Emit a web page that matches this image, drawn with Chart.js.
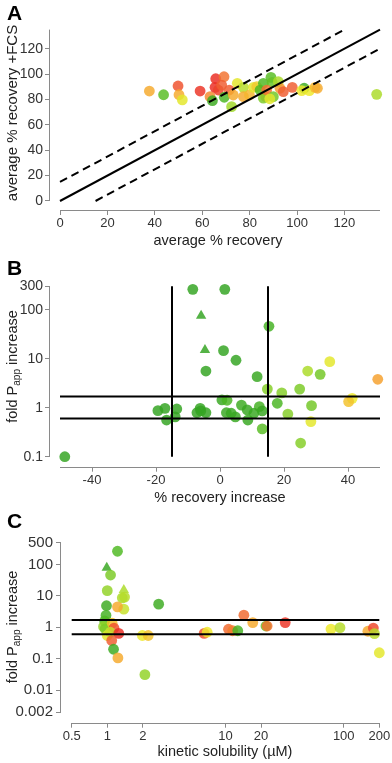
<!DOCTYPE html>
<html><head><meta charset="utf-8">
<script src="https://cdn.jsdelivr.net/npm/chart.js@4"></script>
<style>
html,body{margin:0;padding:0;background:#fff;}
#wrap{position:relative;width:392px;height:763px;overflow:hidden;}
canvas{position:absolute;left:0;}
</style></head><body>
<div id="wrap">
<canvas id="cA" width="392" height="252" style="top:0;width:392px;height:252px"></canvas>
<canvas id="cB" width="392" height="253" style="top:252px;width:392px;height:253px"></canvas>
<canvas id="cC" width="392" height="258" style="top:505px;width:392px;height:258px"></canvas>
</div>
<script>
const FONT = '"Liberation Sans", Arial, Helvetica, sans-serif';
const AXIS = '#8a8a8a';
const TICKCOL = '#333';
const TITLECOL = '#222';

// ---------- Panel A ----------
const aRecovery    = [37.7,43.7,49.8,50.2,51.6,59.1,63.3,64.3,65.7,69.2,65.4,66.8,68.2,71.4,69.3,72.4,73.1,74.8,77.4,77.4,79.9,81.6,83.0,84.4,85.8,89.0,89.5,86.8,85.8,87.2,92.1,92.8,94.2,90.0,88.5,98.0,103.0,102.0,105.2,107.6,108.6,133.6];
const aRecoveryFCS = [86.6,83.7,90.6,83.7,79.6,86.6,82.2,79.0,96.3,97.9,89.5,87.4,91.3,87.4,81.7,74.3,83.5,92.7,89.5,82.2,83.5,89.5,90.0,87.4,92.7,97.4,93.5,82.2,81.0,87.4,94.0,88.8,86.1,82.2,80.5,89.5,88.8,86.9,86.9,89.5,88.8,84.0];
const aScore       = [0.68,0.22,0.88,0.68,0.5,0.95,0.75,0.12,0.97,0.8,0.97,0.92,0.85,0.85,0.18,0.38,0.68,0.5,0.42,0.68,0.65,0.5,0.6,0.2,0.2,0.22,0.25,0.68,0.3,0.8,0.4,0.72,0.85,0.28,0.5,0.85,0.12,0.52,0.52,0.65,0.68,0.4];
const aTicks = [0,20,40,60,80,100,120];
const aRange = [0,135];
const aBand = 15;

// ---------- Panel B ----------
const bRecoveryInc = [-48.5,-8.5,1.5,1.1,5.0,-4.4,15.3,11.6,14.8,19.3,24.9,27.4,31.3,34.3,49.3,41.3,40.2,28.6,28.4,21.2,17.9,25.2,13.2,12.3,13.2,0.6,2.2,6.7,2.0,3.5,4.8,8.7,8.5,10.6,-6.2,-7.2,-4.4,-17.2,-13.5,-16.7,-14.0,-19.4,-6.0];
const bFoldPapp    = [0.1,260,260,14.6,9.3,5.6,45.8,4.3,2.4,2.0,2.4,5.6,4.8,8.7,3.8,1.55,1.33,1.1,0.52,0.74,1.23,0.19,0.37,1.05,0.86,1.44,1.42,1.13,0.79,0.77,0.65,0.56,0.9,0.77,0.97,0.79,0.79,0.97,0.94,0.56,0.65,0.87,0.86];
const bScore       = [0.08,0.08,0.08,0.08,0.08,0.08,0.15,0.1,0.32,0.32,0.3,0.4,0.28,0.5,0.7,0.52,0.62,0.28,0.5,0.32,0.18,0.32,0.22,0.15,0.1,0.1,0.18,0.12,0.1,0.1,0.1,0.1,0.1,0.1,0.08,0.08,0.08,0.08,0.08,0.08,0.08,0.08,0.08];
const bTriRecoveryInc = [-5.9,-4.7];
const bTriFoldPapp    = [75,15];
const bTriScore       = [0.08,0.08];
const bXTicks = [-40,-20,0,20,40];
const bYTicks = [0.1,1,10,100,300];
const bXRange = [-50,50];
const bYRange = [0.1,300];
const bRecoveryGuides = [-15,15];
const foldGuides = [0.6,1.7];

// ---------- Panel C ----------
const cSolubility = [1.22,1.066,1.0,1.34,1.40,1.38,1.22,0.985,0.975,0.95,0.93,0.96,1.1,1.14,1.0,1.06,1.25,1.09,1.13,1.23,2.72,2.08,1.98,2.22,6.6,7.0,10.6,11.5,12.7,14.3,17.0,22.0,22.5,32.0,78,93,160,178,182,200];
const cFoldPapp   = [267,46.5,14.8,8.7,9.2,3.8,4.5,4.9,2.4,1.6,1.05,0.9,1.35,0.95,0.55,0.7,0.64,0.38,0.2,0.106,5.5,0.031,0.55,0.55,0.64,0.7,0.87,0.78,0.78,2.45,1.42,1.1,1.1,1.42,0.88,0.98,0.75,0.95,0.63,0.155];
const cScore      = [0.2,0.3,0.35,0.4,0.42,0.45,0.68,0.12,0.15,0.2,0.35,0.3,0.62,0.88,0.5,0.45,0.97,0.85,0.12,0.68,0.12,0.35,0.52,0.62,0.88,0.52,0.82,0.78,0.15,0.82,0.68,0.25,0.8,0.95,0.52,0.42,0.68,0.9,0.42,0.5];
const cTriSolubility = [0.99,1.38];
const cTriFoldPapp   = [79,15.5];
const cTriScore      = [0.1,0.4];
const cXTicks = [0.5,1,2,10,20,100,200];
const cYTicks = [0.002,0.01,0.1,1,10,100,500];
const cXRange = [0.5,200];
const cYRange = [0.002,500];

// ---------- helpers ----------
const STOPS = [[0,[34,150,34]],[0.2,[80,186,36]],[0.38,[160,216,42]],[0.52,[238,234,44]],[0.68,[246,170,46]],[0.85,[240,94,50]],[1,[234,34,34]]];
function scoreColor(s){
  for (let i=1;i<STOPS.length;i++){
    if (s <= STOPS[i][0]){
      const [s0,c0]=STOPS[i-1],[s1,c1]=STOPS[i];
      const t=(s-s0)/(s1-s0);
      const c=c0.map((v,k)=>Math.round(v+(c1[k]-v)*t));
      return `rgba(${c[0]},${c[1]},${c[2]},0.84)`;
    }
  }
  return 'rgba(234,34,34,0.84)';
}
const pts = (xs,ys) => xs.map((x,i)=>({x, y:ys[i]}));
function scatterDs(xs, ys, scores, style){
  return {type:'scatter', data:pts(xs,ys), pointStyle:style,
    pointRadius: style==='triangle'?6:5.4, pointHoverRadius: style==='triangle'?6:5.4,
    pointBorderWidth:0, pointBackgroundColor:scores.map(scoreColor),
    pointBorderColor:'rgba(0,0,0,0)', showLine:false, order:2, clip:false};
}
function lineDs(points, dash){
  return {type:'scatter', data:points, showLine:true, borderColor:'#000', borderWidth:2,
    borderDash:dash||[], pointRadius:0, pointHoverRadius:0, order:0, clip:false, fill:false};
}
function scaleCfg(type, min, max, ticksArr, size, isX, pad, fs){
  return {
    type, min, max,
    border:{display:false},
    grid:{drawOnChartArea:false, drawTicks:true, tickLength:5, color:AXIS, tickColor:AXIS, lineWidth:1},
    ticks:{autoSkip:false, maxRotation:0, minRotation:0, color:TICKCOL, padding:pad,
      font:{family:FONT, size:fs||13}, callback:(v)=>String(v)},
    afterBuildTicks:(s)=>{ s.ticks = ticksArr.map(v=>({value:v})); },
    afterFit:(s)=>{ if (isX) s.height=size; else s.width=size; }
  };
}
const axisLines = {
  id:'rAxes',
  afterDraw(chart, args, o){
    const ctx=chart.ctx, xs=chart.scales.x, ys=chart.scales.y, ca=chart.chartArea;
    ctx.save(); ctx.strokeStyle=AXIS; ctx.lineWidth=1;
    const lx=Math.round(ca.left)-0.5;
    ctx.beginPath(); ctx.moveTo(lx, ys.getPixelForValue(o.y[0])); ctx.lineTo(lx, ys.getPixelForValue(o.y[1])); ctx.stroke();
    const by=Math.round(ca.bottom)+0.5;
    ctx.beginPath(); ctx.moveTo(xs.getPixelForValue(o.x[0]), by); ctx.lineTo(xs.getPixelForValue(o.x[1]), by); ctx.stroke();
    ctx.restore();
  }
};
const texts = {
  id:'rText',
  afterDraw(chart, args, o){
    const ctx=chart.ctx;
    (o.items||[]).forEach(it=>{
      ctx.save();
      ctx.translate(it.x, it.y);
      if (it.rot) ctx.rotate(it.rot);
      ctx.fillStyle = it.color || TITLECOL;
      ctx.textBaseline = it.baseline || 'alphabetic';
      const parts = it.parts;
      let w=0;
      parts.forEach(p=>{ ctx.font=`${p.bold?'bold ':''}${p.size}px ${FONT}`; p.w=ctx.measureText(p.t).width; w+=p.w; });
      let x = it.align==='left' ? 0 : -w/2;
      parts.forEach(p=>{
        ctx.font=`${p.bold?'bold ':''}${p.size}px ${FONT}`;
        ctx.textAlign='left';
        ctx.fillText(p.t, x, p.dy||0);
        x+=p.w;
      });
      ctx.restore();
    });
  }
};
function baseOptions(pad, xCfg, yCfg, axes, items){
  return {
    responsive:false, animation:false, devicePixelRatio:1,
    layout:{padding:pad, autoPadding:false},
    plugins:{legend:{display:false}, tooltip:{enabled:false}, rAxes:axes, rText:{items}},
    scales:{x:xCfg, y:yCfg}
  };
}
const TS = 14.5;

// ---------- Chart A ----------
new Chart(document.getElementById('cA'), {
  type:'scatter',
  data:{datasets:[
    lineDs([{x:aRange[0],y:aRange[0]},{x:aRange[1],y:aRange[1]}]),
    lineDs([{x:aRange[0],y:aRange[0]+aBand},{x:aRange[1]-aBand,y:aRange[1]}],[8,5]),
    lineDs([{x:aRange[0]+aBand,y:aRange[0]},{x:aRange[1],y:aRange[1]-aBand}],[8,5]),
    scatterDs(aRecovery, aRecoveryFCS, aScore, 'circle')
  ]},
  options: baseOptions({left:0,right:12,top:29.6,bottom:0},
    scaleCfg('linear', -4.22, 135, aTicks, 42, true, 1, 13),
    scaleCfg('linear', -7.09, 135, aTicks, 50, false, 2, 14),
    {x:aRange, y:aRange},
    [
      {x:7, y:20, align:'left', color:'#000', parts:[{t:'A', size:21, bold:true}]},
      {x:13, y:113, rot:-Math.PI/2, baseline:'middle', parts:[{t:'average % recovery +FCS', size:15}]},
      {x:218, y:245, parts:[{t:'average % recovery', size:TS}]}
    ]),
  plugins:[axisLines, texts]
});

// ---------- Chart B ----------
const bDatasets = [
  lineDs([{x:bXRange[0],y:foldGuides[1]},{x:bXRange[1],y:foldGuides[1]}]),
  lineDs([{x:bXRange[0],y:foldGuides[0]},{x:bXRange[1],y:foldGuides[0]}]),
  lineDs([{x:bRecoveryGuides[0],y:bYRange[0]},{x:bRecoveryGuides[0],y:bYRange[1]}]),
  lineDs([{x:bRecoveryGuides[1],y:bYRange[0]},{x:bRecoveryGuides[1],y:bYRange[1]}]),
  scatterDs(bRecoveryInc, bFoldPapp, bScore, 'circle'),
  scatterDs(bTriRecoveryInc, bTriFoldPapp, bTriScore, 'triangle')
];
new Chart(document.getElementById('cB'), {
  type:'scatter',
  data:{datasets:bDatasets},
  options: baseOptions({left:0,right:12,top:34.3,bottom:0},
    scaleCfg('linear', -53.125, 50, bXTicks, 38.3, true, 1, 13),
    scaleCfg('logarithmic', 0.0625, 300, bYTicks, 50, false, 2, 14),
    {x:bXRange, y:bYRange},
    [
      {x:7, y:23, align:'left', color:'#000', parts:[{t:'B', size:21, bold:true}]},
      {x:13, y:114.5, rot:-Math.PI/2, baseline:'middle', parts:[{t:'fold P', size:TS},{t:'app', size:10, dy:4},{t:' increase', size:TS}]},
      {x:220, y:250, parts:[{t:'% recovery increase', size:TS}]}
    ]),
  plugins:[axisLines, texts]
});

// ---------- Chart C ----------
new Chart(document.getElementById('cC'), {
  type:'scatter',
  data:{datasets:[
    lineDs([{x:cXRange[0],y:foldGuides[1]},{x:cXRange[1],y:foldGuides[1]}]),
    lineDs([{x:cXRange[0],y:foldGuides[0]},{x:cXRange[1],y:foldGuides[0]}]),
    scatterDs(cSolubility, cFoldPapp, cScore, 'circle'),
    scatterDs(cTriSolubility, cTriFoldPapp, cTriScore, 'triangle')
  ]},
  options: baseOptions({left:0,right:7,top:37.7,bottom:0},
    scaleCfg('logarithmic', 0.406, 223.4, cXTicks, 40.3, true, 1, 13),
    scaleCfg('logarithmic', 0.000912, 500, cYTicks, 61, false, 3, 15),
    {x:cXRange, y:cYRange},
    [
      {x:7, y:23, align:'left', color:'#000', parts:[{t:'C', size:21, bold:true}]},
      {x:13, y:122, rot:-Math.PI/2, baseline:'middle', parts:[{t:'fold P', size:TS},{t:'app', size:10, dy:4},{t:' increase', size:TS}]},
      {x:225, y:250.6, parts:[{t:'kinetic solubility (\u00B5M)', size:TS}]}
    ]),
  plugins:[axisLines, texts]
});
</script>
</body></html>
